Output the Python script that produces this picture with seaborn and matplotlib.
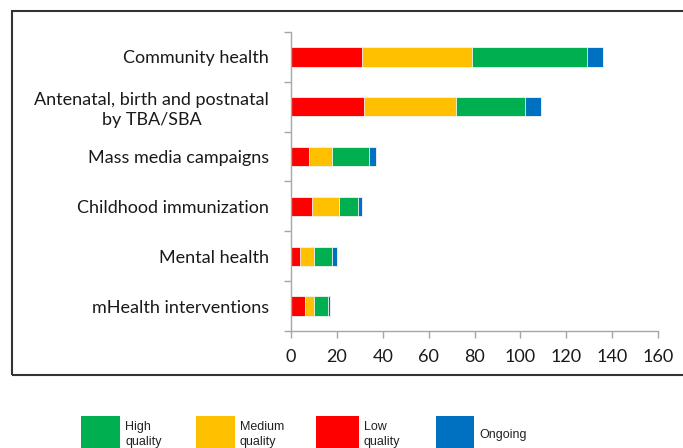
import matplotlib
matplotlib.use("Agg")
import matplotlib.pyplot as plt
import seaborn as sns
import pandas as pd
import numpy as np
from matplotlib.patches import Rectangle

categories = ["Community health",
              "Antenatal, birth and postnatal\nby TBA/SBA",
              "Mass media campaigns",
              "Childhood immunization",
              "Mental health",
              "mHealth interventions"]
low = [31, 32, 8, 9, 4, 6]
medium = [48, 40, 10, 12, 6, 4]
high = [50, 30, 16, 8, 8, 6]
ongoing = [7, 7, 3, 2, 2, 1]

series_names = ["Low quality", "Medium quality", "High quality", "Ongoing"]
series_colors = ["#FF0000", "#FFC000", "#00B050", "#0070C0"]
x_ticks = [0, 20, 40, 60, 80, 100, 120, 140, 160]

sns.set_theme(style="white")
plt.rcParams["font.family"] = ["Lato", "DejaVu Sans"]

W, H = 683, 448
fig = plt.figure(figsize=(W / 100, H / 100), dpi=100)
ax = fig.add_axes([291 / W, 1 - 331 / H, (658 - 291) / W, (331 - 32) / H])

df = pd.DataFrame({"cat": categories, "low": low, "medium": medium,
                   "high": high, "ongoing": ongoing})
cum = df[["low", "medium", "high", "ongoing"]].cumsum(axis=1)
# draw from the total down so each stacked segment shows
for col, color in zip(["ongoing", "high", "medium", "low"], series_colors[::-1]):
    sns.barplot(x=cum[col], y=df["cat"], orient="h", color=color, width=0.39,
                saturation=1, ax=ax, linewidth=0.6, edgecolor="#f4f4f4")

ax.set_xlim(0, 160)
ax.set_ylim(len(categories) - 0.5, -0.5)
ax.set_xticks(x_ticks)
ax.set_xticklabels([str(v) for v in x_ticks])
ax.set_xlabel("")
ax.set_ylabel("")

for s in ["top", "right"]:
    ax.spines[s].set_visible(False)
for s in ["left", "bottom"]:
    ax.spines[s].set_color("#a6a6a6")
    ax.spines[s].set_linewidth(1.0)

ax.tick_params(axis="x", which="major", direction="out", length=5, width=1,
               color="#a6a6a6", labelsize=13, labelcolor="#1a1a1a", pad=8,
               bottom=True)
ax.tick_params(axis="y", which="major", length=0, labelsize=13,
               labelcolor="#1a1a1a", pad=16, left=True)
ax.set_yticks(np.arange(-0.5, len(categories) + 0.5, 1.0), minor=True)
ax.tick_params(axis="y", which="minor", direction="out", length=5, width=1,
               color="#a6a6a6", left=True)
for lab in ax.get_yticklabels():
    lab.set_multialignment("center")
    lab.set_linespacing(1.25)

# outer frame
fig.patches.append(Rectangle((11.5 / W, 1 - 375 / H), 1.0, (375 - 11) / H,
                             transform=fig.transFigure, fill=False,
                             edgecolor="#333333", linewidth=1.5, clip_on=False))

# legend
leg_items = [("High\nquality", series_colors[2], 81, 39),
             ("Medium\nquality", series_colors[1], 196, 39),
             ("Low\nquality", series_colors[0], 316, 43),
             ("Ongoing", series_colors[3], 436, 38)]
for text, color, x0, w in leg_items:
    fig.patches.append(Rectangle((x0 / W, 0), w / W, (H - 416) / H,
                                 transform=fig.transFigure, facecolor=color,
                                 edgecolor="none"))
    if "\n" in text:
        fig.text((x0 + w + 5) / W, 1 - 421 / H, text, ha="left", va="top",
                 fontsize=9, color="#222222", linespacing=1.35,
                 family=["Liberation Sans", "DejaVu Sans"])
    else:
        fig.text((x0 + w + 5) / W, 1 - 435 / H, text, ha="left", va="center",
                 fontsize=9, color="#222222",
                 family=["Liberation Sans", "DejaVu Sans"])

fig.savefig("out.png", dpi=100)
